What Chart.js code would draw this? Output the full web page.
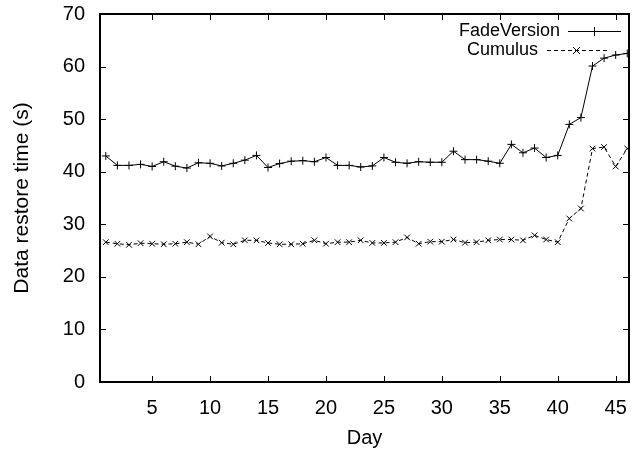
<!DOCTYPE html>
<html lang="en">

<head>
    <meta charset="UTF-8">
    <title>Data restore time</title>
    <script src="https://cdn.jsdelivr.net/npm/chart.js"></script>
    <style>
        body {
            margin: 0;
            background: #ffffff;
        }

        #chartContainer {
            width: 639px;
            height: 456px;
        }
    </style>
</head>

<body>
    <div id="chartContainer">
        <canvas id="myChart" width="639" height="456"></canvas>
    </div>
    <script>
        // values
        const days = [1, 2, 3, 4, 5, 6, 7, 8, 9, 10, 11, 12, 13, 14, 15, 16, 17, 18, 19, 20, 21, 22, 23,
            24, 25, 26, 27, 28, 29, 30, 31, 32, 33, 34, 35, 36, 37, 38, 39, 40, 41, 42, 43, 44, 45, 46];
        const fadeVersion = [43.0, 41.2, 41.2, 41.4, 41.0, 41.9, 41.05, 40.7, 41.7, 41.6, 41.1, 41.6, 42.2,
            43.1, 40.8, 41.55, 42.0, 42.1, 41.9, 42.7, 41.2, 41.2, 40.9, 41.1, 42.7, 41.8, 41.6, 41.9, 41.8,
            41.8, 43.9, 42.3, 42.3, 42.0, 41.6, 45.2, 43.6, 44.5, 42.7, 43.1, 49.0, 50.3, 60.1, 61.6, 62.2, 62.5];
        const cumulus = [26.6, 26.3, 26.1, 26.4, 26.3, 26.2, 26.3, 26.6, 26.2, 27.7, 26.5, 26.2, 26.95,
            26.95, 26.45, 26.2, 26.2, 26.3, 26.95, 26.3, 26.6, 26.6, 26.95, 26.45, 26.45, 26.6, 27.5, 26.3,
            26.7, 26.7, 27.1, 26.5, 26.6, 26.95, 27.1, 27.1, 26.95, 27.9, 27.1, 26.6, 31.1, 33.0, 44.4, 44.7,
            41.0, 44.4];
        const xTicks = [5, 10, 15, 20, 25, 30, 35, 40, 45];
        const yTicks = [0, 10, 20, 30, 40, 50, 60, 70];

        const FONT = 'Liberation Sans, Arial, sans-serif';
        const TICK = 6;

        // gnuplot style frame: border, inward ticks on all sides, titles, key
        const framePlugin = {
            id: 'frame',
            afterDraw(chart) {
                const c = chart.ctx;
                const a = chart.chartArea;
                const xs = chart.scales.x;
                const ys = chart.scales.y;
                c.save();
                c.strokeStyle = '#000';
                c.lineWidth = 1;
                c.beginPath();
                xTicks.forEach(v => {
                    const px = Math.round(xs.getPixelForValue(v)) + 0.5;
                    c.moveTo(px, a.bottom); c.lineTo(px, a.bottom - TICK);
                    c.moveTo(px, a.top); c.lineTo(px, a.top + TICK);
                });
                yTicks.forEach(v => {
                    const py = Math.round(ys.getPixelForValue(v)) + 0.5;
                    c.moveTo(a.left, py); c.lineTo(a.left + TICK, py);
                    c.moveTo(a.right, py); c.lineTo(a.right - TICK, py);
                });
                c.stroke();
                c.lineWidth = 2;
                c.strokeRect(a.left, a.top, a.right - a.left, a.bottom - a.top);

                // axis titles
                c.fillStyle = '#000';
                c.font = '20px ' + FONT;
                c.textAlign = 'center';
                c.textBaseline = 'middle';
                c.fillText('Day', (a.left + a.right) / 2, 438);
                c.save();
                c.font = '21px ' + FONT;
                c.translate(22, (a.top + a.bottom) / 2);
                c.rotate(-Math.PI / 2);
                c.fillText('Data restore time (s)', 0, 0);
                c.restore();

                // key
                c.font = '18px ' + FONT;
                c.textAlign = 'right';
                c.fillText('FadeVersion', 560, 31);
                c.fillText('Cumulus', 538, 50);
                c.lineWidth = 1;
                c.beginPath();
                c.moveTo(568, 31.5); c.lineTo(621, 31.5);
                c.moveTo(594.5, 27); c.lineTo(594.5, 36);
                c.moveTo(590, 31.5); c.lineTo(599, 31.5);
                c.stroke();
                c.setLineDash([4, 3]);
                c.beginPath();
                c.moveTo(547, 50.5); c.lineTo(607, 50.5);
                c.stroke();
                c.setLineDash([]);
                c.beginPath();
                c.moveTo(573, 47); c.lineTo(580, 54);
                c.moveTo(580, 47); c.lineTo(573, 54);
                c.stroke();
                c.restore();
            }
        };

        const ctx = document.getElementById('myChart').getContext('2d');
        const myChart = new Chart(ctx, {
            type: 'line',
            data: {
                datasets: [{
                    label: 'FadeVersion',
                    data: days.map((d, i) => ({ x: d, y: fadeVersion[i] })),
                    borderColor: '#000',
                    borderWidth: 1,
                    pointStyle: 'cross',
                    pointRadius: 4,
                    pointBorderWidth: 1,
                    pointBorderColor: '#000',
                    tension: 0,
                    fill: false
                }, {
                    label: 'Cumulus',
                    data: days.map((d, i) => ({ x: d, y: cumulus[i] })),
                    borderColor: '#000',
                    borderWidth: 1,
                    borderDash: [4, 3],
                    pointStyle: 'crossRot',
                    pointRadius: 4,
                    pointBorderWidth: 1,
                    pointBorderColor: '#000',
                    tension: 0,
                    fill: false
                }]
            },
            options: {
                responsive: false,
                animation: false,
                devicePixelRatio: 1,
                layout: {
                    padding: { top: 14, right: 10, left: 0, bottom: 0 }
                },
                plugins: {
                    legend: { display: false },
                    tooltip: { enabled: false }
                },
                scales: {
                    x: {
                        type: 'linear',
                        min: 0.5,
                        max: 46.15,
                        afterBuildTicks: (scale) => {
                            scale.ticks = xTicks.map(v => ({ value: v }));
                        },
                        afterFit: (scale) => {
                            scale.height = 74;
                            scale.paddingLeft = 0;
                            scale.paddingRight = 0;
                        },
                        grid: { display: false, drawTicks: false },
                        border: { display: false },
                        ticks: {
                            color: '#000',
                            padding: 14,
                            maxRotation: 0,
                            autoSkip: false,
                            font: { family: FONT, size: 20 }
                        }
                    },
                    y: {
                        min: 0,
                        max: 70,
                        afterBuildTicks: (scale) => {
                            scale.ticks = yTicks.map(v => ({ value: v }));
                        },
                        afterFit: (scale) => {
                            scale.width = 100;
                            scale.paddingTop = 0;
                            scale.paddingBottom = 0;
                        },
                        grid: { display: false, drawTicks: false },
                        border: { display: false },
                        ticks: {
                            color: '#000',
                            padding: 15,
                            font: { family: FONT, size: 20 }
                        }
                    }
                }
            },
            plugins: [framePlugin]
        });
    </script>

</body>

</html>
